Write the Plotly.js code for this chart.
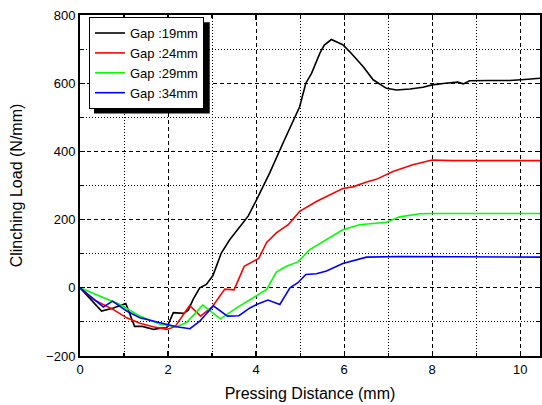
<!DOCTYPE html>
<html>
<head>
<meta charset="utf-8">
<script src="https://cdn.plot.ly/plotly-3.0.1.min.js"></script>
<style>html,body{margin:0;padding:0;background:#fff;}#chart{width:542px;height:405px;}</style>
</head>
<body>
<div id="chart"></div>
<script>
const seriesNames = ["Gap :19mm", "Gap :24mm", "Gap :29mm", "Gap :34mm"];
const seriesColors = ["#000000", "#ff0000", "#00ff00", "#0000ff"];

const x19 = [0, 0.49, 0.76, 1.04, 1.24, 1.40, 1.50, 1.68, 1.85, 1.97, 2.12, 2.35, 2.46, 2.57, 2.72, 2.87, 3.02, 3.21, 3.40, 3.63, 3.82, 4.01, 4.31, 4.61, 4.99, 5.13, 5.26, 5.45, 5.55, 5.71, 5.97, 6.13, 6.43, 6.66, 6.96, 7.19, 7.50, 7.79, 8.00, 8.30, 8.58, 8.71, 8.85, 9.30, 9.76, 10.10, 10.48];
const y19 = [0, -68, -59, -46, -113, -113, -116, -122, -118, -117, -73, -75, -66, -34, 0, 10, 36, 102, 141, 180, 210, 258, 337, 424, 531, 600, 629, 688, 712, 728, 713, 692, 649, 610, 585, 580, 583, 588, 595, 600, 603, 598, 607, 608, 608, 611, 615];

const x24 = [0, 0.30, 0.76, 1.06, 1.36, 1.66, 1.97, 2.16, 2.49, 2.74, 3.01, 3.29, 3.50, 3.73, 4.06, 4.24, 4.46, 4.73, 4.99, 5.37, 5.97, 6.20, 6.51, 6.73, 7.11, 7.56, 8.00, 8.47, 9.50, 10.48];
const y24 = [0, -34, -64, -88, -104, -114, -122, -114, -52, -83, -55, -4, -6, 63, 86, 133, 161, 185, 224, 253, 291, 296, 310, 318, 341, 361, 375, 373, 373, 373];

const x29 = [0, 0.53, 0.91, 1.36, 1.82, 2.19, 2.42, 2.79, 3.19, 3.56, 3.86, 4.24, 4.46, 4.69, 4.95, 5.22, 5.97, 6.35, 6.96, 7.26, 7.72, 8.02, 9.00, 10.48];
const y29 = [0, -29, -49, -83, -107, -114, -102, -51, -91, -59, -36, -5, 46, 63, 76, 112, 170, 185, 192, 208, 217, 218, 218, 218];

const x34 = [0, 0.53, 0.74, 1.06, 1.36, 1.82, 2.19, 2.50, 2.72, 3.03, 3.35, 3.61, 3.86, 4.01, 4.27, 4.54, 4.65, 4.77, 4.95, 5.13, 5.37, 5.60, 5.97, 6.51, 7.26, 8.02, 9.00, 10.48];
const y34 = [0, -56, -39, -68, -88, -102, -114, -120, -98, -53, -83, -82, -59, -49, -36, -49, -25, 0, 15, 39, 41, 49, 71, 90, 92, 92, 91, 90];

const xs = [x19, x24, x29, x34];
const ys = [y19, y24, y29, y34];

const traces = seriesNames.map((n, i) => ({
  type: 'scatter', mode: 'lines', name: n,
  x: xs[i], y: ys[i],
  line: {color: seriesColors[i], width: 1.6}
}));

const FONT = 'Liberation Sans, Arial, sans-serif';
const axisCommon = {
  showline: true, linecolor: '#000', linewidth: 2, mirror: 'ticks',
  ticks: 'inside', ticklen: 5, tickwidth: 1.2, tickcolor: '#000',
  showgrid: true, gridcolor: '#000', gridwidth: 1, griddash: '4px,3px',
  zeroline: false,
  tickfont: {family: FONT, size: 13, color: '#000'}
};

const layout = {
  width: 542, height: 405,
  margin: {l: 80, r: 2, t: 15, b: 49},
  paper_bgcolor: '#fff', plot_bgcolor: '#fff',
  font: {family: FONT, color: '#000'},
  showlegend: true,
  xaxis: Object.assign({}, axisCommon, {
    range: [0, 10.45], dtick: 2, tick0: 0,
    minor: {dtick: 1, ticks: 'inside', ticklen: 3, tickcolor: '#000', showgrid: true, gridcolor: '#000', griddash: '1px,2px', gridwidth: 1},
    title: {text: 'Pressing Distance (mm)', font: {family: FONT, size: 16, color: '#000'}, standoff: 12}
  }),
  yaxis: Object.assign({}, axisCommon, {
    range: [-200, 800], dtick: 200, tick0: 0,
    minor: {dtick: 100, ticks: 'inside', ticklen: 3, tickcolor: '#000', showgrid: true, gridcolor: '#000', griddash: '1px,2px', gridwidth: 1},
    title: {text: 'Clinching Load (N/mm)', font: {family: FONT, size: 16, color: '#000'}, standoff: 20}
  }),
  legend: {
    x: 0.0195, y: 0.994, xanchor: 'left', yanchor: 'top',
    bgcolor: '#fff', bordercolor: '#000', borderwidth: 1,
    font: {family: FONT, size: 13, color: '#000'},
    tracegroupgap: 0
  },
  shapes: [{
    type: 'rect', xref: 'paper', yref: 'paper', layer: 'above',
    x0: 0.0304, x1: 0.282, y0: 0.711, y1: 0.979,
    fillcolor: '#000', line: {width: 0}
  }]
};

Plotly.newPlot('chart', traces, layout, {displayModeBar: false, staticPlot: true});
</script>
</body>
</html>
